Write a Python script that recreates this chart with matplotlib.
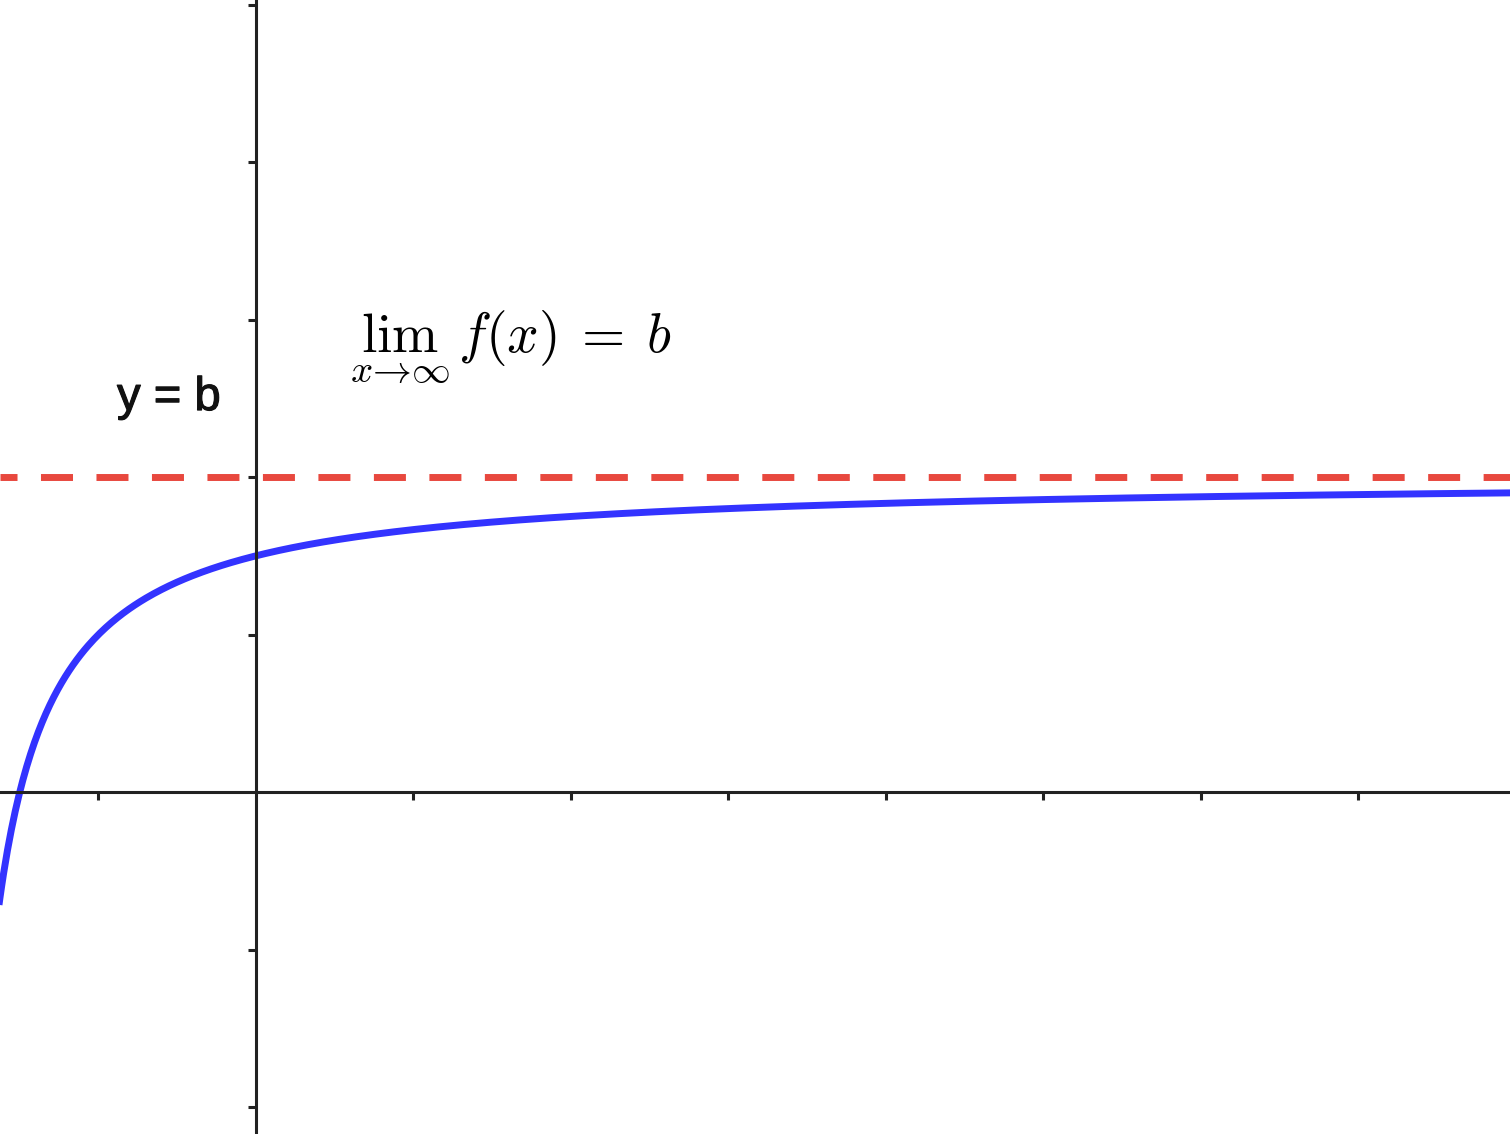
import numpy as np
import matplotlib.pyplot as plt
import matplotlib.patheffects as pe

# curve f(x) = b - k / (x + c)
asintota_b = 2.0
k = 1.0
c = 2.0

x_ticks = [-1, 1, 2, 3, 4, 5, 6, 7]
y_ticks = [-2, -1, 1, 2, 3, 4, 5]

x_min, x_max = -1.6254, 7.962
y_min, y_max = -2.171, 5.029

plt.rcParams["mathtext.fontset"] = "cm"

fig = plt.figure(figsize=(15.1, 11.34), dpi=100)
ax = fig.add_axes([0, 0, 1, 1])

xs = np.linspace(-1.7, x_max + 0.1, 800)
ys = asintota_b - k / (xs + c)

ax.plot(xs, ys, color="#3333ff", lw=5, zorder=2, solid_capstyle="butt")
ax.axhline(asintota_b, color="#e8483e", lw=5, zorder=2,
           linestyle=(2.16, (4.61, 3.38)))

ax.set_xlim(x_min, x_max)
ax.set_ylim(y_min, y_max)

for lado in ["top", "right"]:
    ax.spines[lado].set_visible(False)
for lado in ["left", "bottom"]:
    ax.spines[lado].set_position(("data", 0))
    ax.spines[lado].set_linewidth(2.2)
    ax.spines[lado].set_color("#222222")
    ax.spines[lado].set_zorder(3)

ax.set_xticks(x_ticks)
ax.set_yticks(y_ticks)
ax.set_xticklabels([])
ax.set_yticklabels([])
ax.tick_params(direction="out", length=6, width=2.2, color="#222222")

etiqueta = fig.text(0.0775, 0.6384, "y = b", fontsize=34, family="Liberation Sans",
                    ha="left", va="baseline", color="#111111")
etiqueta.set_path_effects([pe.withStroke(linewidth=0.8, foreground="#111111")])

fig.text(0.2318, 0.6887, r"$\lim_{x\to\infty}\,f(x)\;\,=\;\,b$", fontsize=40,
         ha="left", va="baseline")

fig.savefig("out.png", dpi=100)
